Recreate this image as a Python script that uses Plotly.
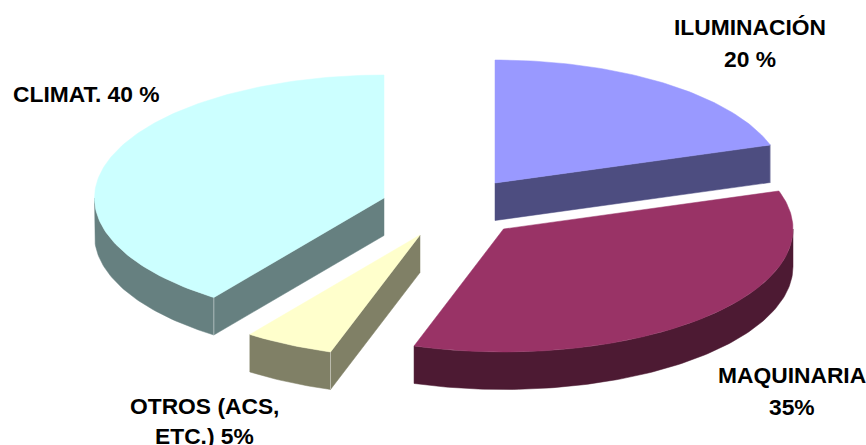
import numpy as np
import plotly.graph_objects as go

categories = ["ILUMINACIÓN", "MAQUINARIA", "OTROS", "CLIMAT."]
values = [20, 35, 5, 40]
label_lines = ["ILUMINACIÓN", "20 %", "MAQUINARIA", "35%", "OTROS (ACS,", "ETC.) 5%", "CLIMAT. 40 %"]
label_xy = [(750, 27), (750, 59), (792, 375), (792, 407), (204, 406), (204, 436), (86, 94)]
top_colors = ["#9999FF", "#993366", "#FFFFCC", "#CCFFFF"]
side_colors = ["#4D4D80", "#4D1A33", "#808066", "#668080"]
apexes = [(495, 183), (503.5, 229), (420, 235), (384, 198)]
# which straight cut faces of each slice look towards the viewer: start, end
cut_faces = [(False, True), (False, False), (True, False), (True, False)]
RX, RY, DEPTH = 289.5, 123, 37.5

fig = go.Figure()


def rim(ax, ay, a0, a1):
    t = np.radians(np.linspace(a0, a1, max(2, int(abs(a1 - a0)) + 1)))
    return ax + RX * np.sin(t), ay - RY * np.cos(t)


def poly(xs, ys, color):
    fig.add_trace(go.Scatter(x=list(xs) + [xs[0]], y=list(ys) + [ys[0]], mode="lines",
                             fill="toself", fillcolor=color,
                             line=dict(color=color, width=0.5),
                             hoverinfo="skip", showlegend=False))


starts = np.cumsum([0] + values[:-1]) * 3.6
for i, v in enumerate(values):
    a0, a1 = starts[i], starts[i] + v * 3.6
    ax, ay = apexes[i]
    # front wall of the rim (facing the viewer: 90..270 degrees)
    w0, w1 = max(a0, 90), min(a1, 270)
    if w1 > w0:
        x, y = rim(ax, ay, w0, w1)
        poly(np.r_[x, x[::-1]], np.r_[y, y[::-1] + DEPTH], side_colors[i])
    # straight cut faces
    for ang, show in zip((a0, a1), cut_faces[i]):
        if show:
            x, y = rim(ax, ay, ang, ang)
            px, py = x[0], y[0]
            poly([ax, px, px, ax], [ay, py, py + DEPTH, ay + DEPTH], side_colors[i])
            # thin light seam where the cut face meets the rim wall
            fig.add_trace(go.Scatter(x=[px, px], y=[py, py + DEPTH], mode="lines",
                                     line=dict(color="rgba(255,255,255,0.55)", width=0.8),
                                     hoverinfo="skip", showlegend=False))
    x, y = rim(ax, ay, a0, a1)
    poly(np.r_[ax, x], np.r_[ay, y], top_colors[i])

for (tx, ty), text in zip(label_xy, label_lines):
    fig.add_annotation(x=tx, y=ty, text="<b>" + text + "</b>", showarrow=False,
                       xanchor="center", yanchor="middle",
                       font=dict(family="Liberation Sans", size=22.8, color="black"), align="center")

fig.update_xaxes(range=[0, 866], visible=False, fixedrange=True)
fig.update_yaxes(range=[445, 0], visible=False, fixedrange=True)
fig.update_layout(width=866, height=445, margin=dict(l=0, r=0, t=0, b=0),
                  paper_bgcolor="white", plot_bgcolor="white", showlegend=False)
fig.write_html("out.html", config={"displayModeBar": False},
               post_script="document.body.style.margin='0';")
